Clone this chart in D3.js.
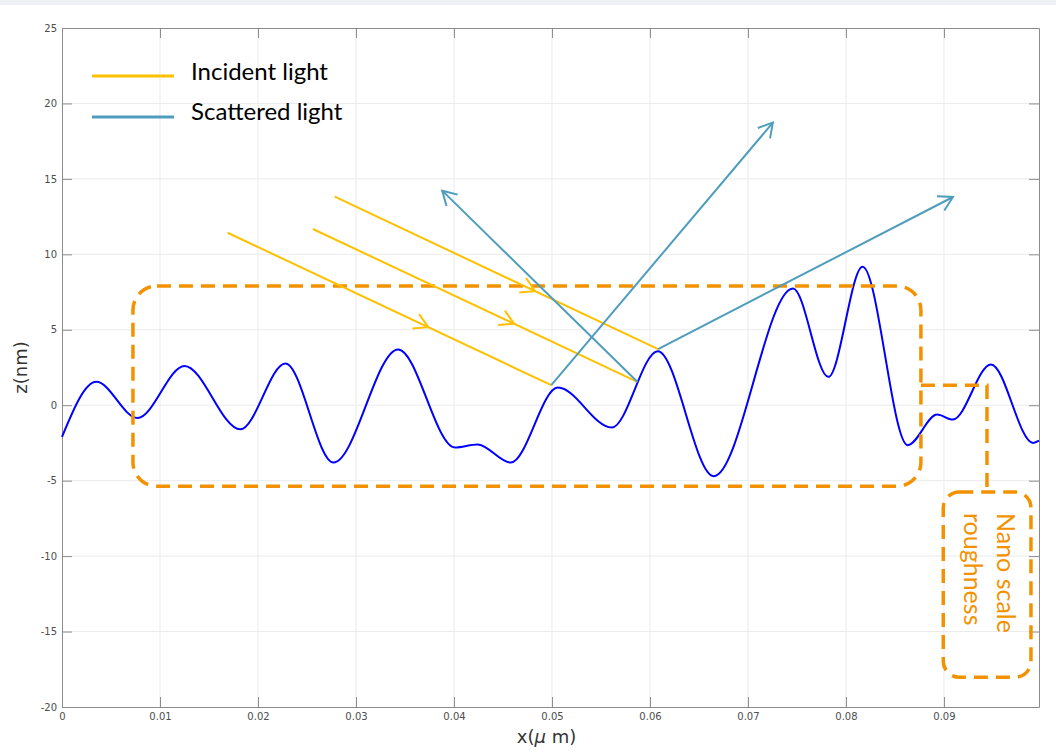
<!DOCTYPE html>
<html>
<head>
<meta charset="utf-8">
<script src="https://cdn.jsdelivr.net/npm/d3@7"></script>
<style>
  body { margin: 0; background: #fff; }
  .strip { position: absolute; top: 0; left: 0; width: 1056px; height: 5px; background: #eef2f6; }
</style>
</head>
<body>
<div class="strip"></div>
<div class="div_d3"></div>
<script>
// surface profile (x in um, z in nm)
const profileX = [0, 0.0035, 0.0077, 0.0125, 0.0182, 0.0228, 0.0277, 0.0343, 0.0401, 0.0424, 0.0458,
                  0.0506, 0.0561, 0.0608, 0.0665, 0.0746, 0.0782, 0.0817, 0.0863, 0.0893, 0.0909, 0.0948, 0.0991, 0.0997]
const profileZ = [-2.1, 1.55, -0.85, 2.6, -1.6, 2.77, -3.8, 3.7, -2.8, -2.6, -3.8,
                  1.17, -1.48, 3.58, -4.7, 7.74, 1.88, 9.18, -2.65, -0.62, -0.95, 2.7, -2.5, -2.35]

const xTicks = [0, 0.01, 0.02, 0.03, 0.04, 0.05, 0.06, 0.07, 0.08, 0.09]
const yTicks = [-20, -15, -10, -5, 0, 5, 10, 15, 20, 25]

// incident rays: [x0, z0, x1, z1]
const incident = [
  [0.0169, 11.43, 0.04993, 1.33],
  [0.0256, 11.68, 0.05871, 1.55],
  [0.02783, 13.82, 0.06083, 3.72]
]
// scattered rays start where incident rays end
const scattered = [
  [0.04993, 1.33, 0.07254, 18.73],
  [0.05871, 1.55, 0.0388, 14.22],
  [0.06083, 3.72, 0.09092, 13.8]
]
// dashed boxes [x0, zTop, x1, zBottom]
const roughBox = [0.00724, 7.9, 0.08765, -5.37]
const labelBox = [0.08993, -5.75, 0.09888, -18.03]
const bracket = [[0.08765, 1.33], [0.09439, 1.33], [0.09439, -5.6]]

const legendNames = ["Incident light", "Scattered light"]
const noteLines = ["Nano scale", "roughness"]

const yellow = "#ffc000", teal = "#4f9dbd", orange = "#f39200"

const margin = {top: 28, right: 17, bottom: 45, left: 62},
      width = 1056 - margin.left - margin.right,
      height = 752 - margin.top - margin.bottom;

const root = d3.select(".div_d3")
  .append("svg")
    .attr("width", 1056)
    .attr("height", 752)
    .style("position", "absolute")
    .style("top", 0)
    .style("left", 0)

const svg = root.append("g")
    .attr("transform", `translate(${margin.left},${margin.top})`);

const x = d3.scaleLinear().domain([0, 0.0997]).range([0, width])
const y = d3.scaleLinear().domain([-20, 25]).range([height, 0])

// grid
svg.append("g").selectAll("line")
  .data(xTicks.slice(1))
  .join("line")
    .attr("x1", d => x(d)).attr("x2", d => x(d))
    .attr("y1", 0).attr("y2", height)
    .attr("stroke", "#ebebeb")
svg.append("g").selectAll("line")
  .data(yTicks.slice(1, -1))
  .join("line")
    .attr("y1", d => y(d)).attr("y2", d => y(d))
    .attr("x1", 0).attr("x2", width)
    .attr("stroke", "#ebebeb")

// axes, ticks pointing inward on all four sides
function styleAxis(g){
  g.select(".domain").attr("stroke", "#8c8c8c")
  g.selectAll(".tick line").attr("stroke", "#8c8c8c")
  g.selectAll("text").attr("fill", "#4d4d4d")
    .style("font-family", "DejaVu Sans").style("font-size", "10px")
}
svg.append("g")
  .attr("transform", `translate(0,${height})`)
  .call(d3.axisBottom(x).tickValues(xTicks).tickSizeInner(-10).tickSizeOuter(0).tickPadding(6)
    .tickFormat(d => String(+d.toFixed(2))))
  .call(styleAxis)
svg.append("g")
  .call(d3.axisLeft(y).tickValues(yTicks).tickSizeInner(-10).tickSizeOuter(0).tickPadding(5)
    .tickFormat(d => String(d)))
  .call(styleAxis)
svg.append("g")
  .call(d3.axisTop(x).tickValues(xTicks.slice(1)).tickSizeInner(-10).tickSizeOuter(0).tickFormat(""))
  .call(styleAxis)
svg.append("g")
  .attr("transform", `translate(${width},0)`)
  .call(d3.axisRight(y).tickValues(yTicks.slice(1, -1)).tickSizeInner(-10).tickSizeOuter(0).tickFormat(""))
  .call(styleAxis)

// axis labels
svg.append("text")
  .attr("text-anchor", "middle")
  .attr("transform", `translate(${-35},${height / 2}) rotate(-90)`)
  .style("font-family", "DejaVu Sans").style("font-size", "18px")
  .attr("fill", "#333")
  .text("z(nm)")
const xl = svg.append("text")
  .attr("text-anchor", "middle")
  .attr("x", width / 2 - 4)
  .attr("y", height + 36)
  .style("font-family", "DejaVu Sans").style("font-size", "18px")
  .attr("fill", "#333")
xl.append("tspan").text("x(")
xl.append("tspan").style("font-style", "italic").text("\u03bc")
xl.append("tspan").text(" m)")

// profile
const profile = profileX.map((d, i) => [d, profileZ[i]])
svg.append("path")
  .datum(profile)
  .attr("fill", "none")
  .attr("stroke", "#0000ff")
  .attr("stroke-width", 2)
  .attr("d", d3.line().x(d => x(d[0])).y(d => y(d[1])).curve(d3.curveMonotoneX))

// dashed annotations
function dashedBox(b, r){
  svg.append("rect")
    .attr("x", x(b[0])).attr("y", y(b[1]))
    .attr("width", x(b[2]) - x(b[0])).attr("height", y(b[3]) - y(b[1]))
    .attr("rx", r).attr("ry", r)
    .attr("fill", "none")
    .attr("stroke", orange)
    .attr("stroke-width", 3.5)
    .attr("stroke-dasharray", "14,8")
}
dashedBox(roughBox, 24)
dashedBox(labelBox, 16)
svg.append("path")
  .attr("d", d3.line().x(d => x(d[0])).y(d => y(d[1]))(bracket))
  .attr("fill", "none")
  .attr("stroke", orange)
  .attr("stroke-width", 3.5)
  .attr("stroke-dasharray", "14,8")

// arrow helper: chevron with tip at (px,py), pointing along (ux,uy)
function chevron(px, py, ux, uy, color){
  const len = 16, a = Math.PI / 6
  const bx = -ux, by = -uy
  const w = s => [px + len * (bx * Math.cos(s * a) - by * Math.sin(s * a)),
                  py + len * (bx * Math.sin(s * a) + by * Math.cos(s * a))]
  const p1 = w(1), p2 = w(-1)
  svg.append("path")
    .attr("d", `M${p1[0]},${p1[1]}L${px},${py}L${p2[0]},${p2[1]}`)
    .attr("fill", "none")
    .attr("stroke", color)
    .attr("stroke-width", 2)
}

for (const r of incident){
  const x0 = x(r[0]), y0 = y(r[1]), x1 = x(r[2]), y1 = y(r[3])
  svg.append("line")
    .attr("x1", x0).attr("y1", y0).attr("x2", x1).attr("y2", y1)
    .attr("stroke", yellow).attr("stroke-width", 2)
  const L = Math.hypot(x1 - x0, y1 - y0)
  const t = 0.62
  chevron(x0 + t * (x1 - x0), y0 + t * (y1 - y0), (x1 - x0) / L, (y1 - y0) / L, yellow)
}
for (const r of scattered){
  const x0 = x(r[0]), y0 = y(r[1]), x1 = x(r[2]), y1 = y(r[3])
  svg.append("line")
    .attr("x1", x0).attr("y1", y0).attr("x2", x1).attr("y2", y1)
    .attr("stroke", teal).attr("stroke-width", 2)
  const L = Math.hypot(x1 - x0, y1 - y0)
  chevron(x1, y1, (x1 - x0) / L, (y1 - y0) / L, teal)
}

// legend
const legend = root.append("g")
legend.selectAll("line")
  .data(legendNames)
  .join("line")
    .attr("x1", 92).attr("x2", 174)
    .attr("y1", (d, i) => 76 + i * 41).attr("y2", (d, i) => 76 + i * 41)
    .attr("stroke", (d, i) => i == 0 ? yellow : teal)
    .attr("stroke-width", 3)
legend.selectAll("text")
  .data(legendNames)
  .join("text")
    .attr("x", 191)
    .attr("y", (d, i) => 79.5 + i * 40)
    .style("font-family", "Lato").style("font-size", "24px")
    .attr("fill", "#000")
    .text(d => d)

// rotated note inside the small box
root.append("g").selectAll("text")
  .data(noteLines)
  .join("text")
    .attr("transform", (d, i) => `translate(${997 - i * 33},513) rotate(90)`)
    .style("font-family", "Lato").style("font-size", "25px")
    .attr("fill", orange)
    .text(d => d)
</script>
</body>
</html>
